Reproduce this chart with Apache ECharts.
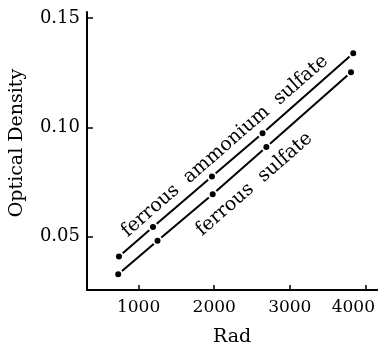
<!DOCTYPE html>
<html>
<head>
<meta charset="utf-8">
<script src="https://cdn.jsdelivr.net/npm/echarts@6/dist/echarts.min.js"></script>
<style>
  html, body { margin: 0; padding: 0; background: #fff; }
  #chart { width: 378px; height: 352px; }
</style>
</head>
<body>
<div id="chart"></div>
<script>
// dose (rad) and optical density
const fasDose = [740, 1190, 1970, 2640, 3840];
const fasOD = [0.041, 0.0545, 0.0775, 0.0973, 0.1338];
const fsDose = [730, 1250, 1980, 2690, 3810];
const fsOD = [0.0329, 0.0482, 0.0694, 0.0910, 0.1252];

const xTicks = [1000, 2000, 3000, 4000];
const yTicks = [0.05, 0.10, 0.15];

// where the two line captions sit, in data units
const fasCaption = { text: 'ferrous  ammonium  sulfate', at: [2140, 0.0914] };
const fsCaption = { text: 'ferrous  sulfate', at: [2530, 0.0740] };

const font = 'DejaVu Serif';
const ink = '#000';

function pairs(xs, ys) {
    return xs.map((x, i) => [x, ys[i]]);
}

function caption(c) {
    return {
        symbol: 'circle',
        symbolSize: 0,
        silent: true,
        data: [{
            coord: c.at,
            label: {
                show: true,
                position: 'inside',
                formatter: c.text,
                rotate: 41,
                color: ink,
                fontFamily: font,
                fontSize: 19
            }
        }]
    };
}

function lineSeries(data, cap) {
    return {
        type: 'line',
        data: data,
        symbol: 'circle',
        symbolSize: 8,
        lineStyle: { color: ink, width: 2 },
        itemStyle: { color: ink, borderColor: '#fff', borderWidth: 2 },
        animation: false,
        markPoint: caption(cap)
    };
}

const chart = echarts.init(document.getElementById('chart'));
chart.setOption({
    backgroundColor: '#fff',
    animation: false,
    grid: { left: 87, right: 0, top: 12, bottom: 58 },
    xAxis: {
        type: 'value',
        min: 317,
        max: 4156,
        name: 'Rad',
        nameLocation: 'middle',
        nameGap: 38,
        nameTextStyle: { color: ink, fontFamily: font, fontSize: 19 },
        splitLine: { show: false },
        axisLine: { lineStyle: { color: ink, width: 2 } },
        axisTick: { inside: true, length: 5, customValues: xTicks, lineStyle: { color: ink, width: 1.5 } },
        axisLabel: {
            customValues: xTicks,
            color: ink,
            fontFamily: font,
            fontSize: 17,
            margin: 9,
            formatter: v => v === 4000 ? '{r|4000}' : String(v),
            rich: { r: { padding: [0, 24, 0, 0], color: ink, fontFamily: font, fontSize: 17 } }
        }
    },
    yAxis: {
        type: 'value',
        min: 0.0257,
        max: 0.1527,
        name: 'Optical Density',
        nameLocation: 'middle',
        nameGap: 60,
        nameTextStyle: { color: ink, fontFamily: font, fontSize: 19, padding: [0, 0, 0, 16] },
        splitLine: { show: false },
        axisLine: { show: true, lineStyle: { color: ink, width: 2 } },
        axisTick: { show: true, inside: true, length: 6, customValues: yTicks, lineStyle: { color: ink, width: 1.5 } },
        axisLabel: {
            customValues: yTicks,
            color: ink,
            fontFamily: font,
            fontSize: 18,
            margin: 7,
            formatter: v => v.toFixed(2)
        }
    },
    series: [
        lineSeries(pairs(fasDose, fasOD), fasCaption),
        lineSeries(pairs(fsDose, fsOD), fsCaption)
    ]
});
</script>
</body>
</html>
